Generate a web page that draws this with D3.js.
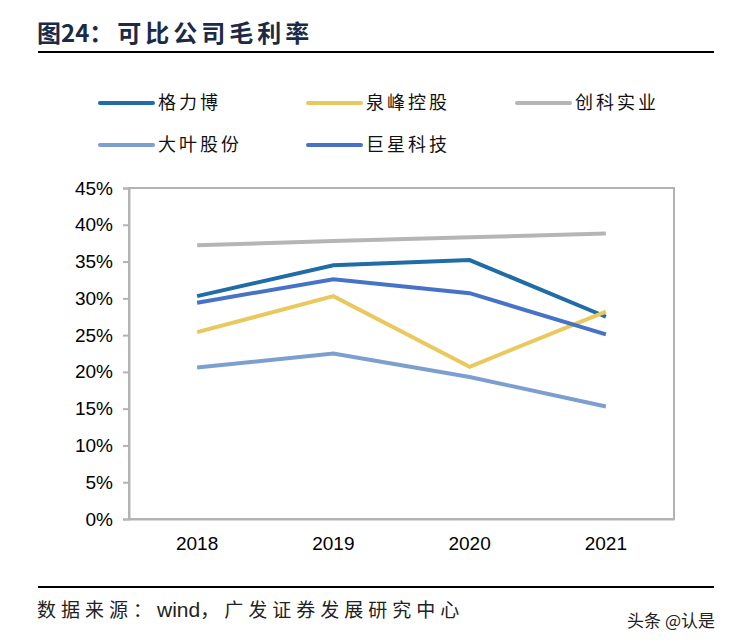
<!DOCTYPE html>
<html>
<head>
<meta charset="utf-8">
<script src="https://cdn.jsdelivr.net/npm/d3@7"></script>
<style>
  body { margin: 0; background: #fff; }
  svg { display: block; }
</style>
</head>
<body>
<div id="chart"></div>
<script>
// categories and series
const years = ["2018", "2019", "2020", "2021"];
const seriesNames = ["格力博", "泉峰控股", "创科实业", "大叶股份", "巨星科技"];
const gelibo = [0.303, 0.345, 0.352, 0.275];
const quanfeng = [0.254, 0.303, 0.207, 0.282];
const chuangke = [0.372, 0.378, 0.383, 0.388];
const daye = [0.206, 0.225, 0.193, 0.153];
const juxing = [0.294, 0.326, 0.307, 0.251];
const yTicks = [0, 0.05, 0.1, 0.15, 0.2, 0.25, 0.3, 0.35, 0.4, 0.45];

const colors = ["#1f6ca6", "#e9c95e", "#b5b5b5", "#7c9fd0", "#4673c6"];
const allValues = [gelibo, quanfeng, chuangke, daye, juxing];

const width = 734, height = 644;
const plot = {left: 129, right: 674, top: 188, bottom: 519};

const svg = d3.select("#chart").append("svg")
    .attr("width", width)
    .attr("height", height);

// title
const title = svg.append("text")
    .attr("x", 37)
    .attr("y", 42)
    .attr("font-family", "Noto Sans CJK SC, sans-serif")
    .attr("font-weight", "bold")
    .attr("font-size", 24)
    .attr("fill", "#1b2a47");
title.append("tspan").attr("letter-spacing", 0).text("图24");
title.append("tspan").attr("letter-spacing", 4).text("：可比公司毛利率");

svg.append("line")
    .attr("x1", 38).attr("x2", 714)
    .attr("y1", 52).attr("y2", 52)
    .attr("stroke", "#000").attr("stroke-width", 2);

// legend
const legendPos = [[100, 103], [308, 103], [517, 103], [100, 145], [308, 145]];
const legend = svg.append("g").selectAll("g")
    .data(seriesNames)
    .enter().append("g")
      .attr("transform", function(d, i) { return "translate(" + legendPos[i][0] + "," + legendPos[i][1] + ")"; });

legend.append("line")
    .attr("x1", 0).attr("x2", 53)
    .attr("stroke", function(d, i) { return colors[i]; })
    .attr("stroke-width", 4)
    .attr("stroke-linecap", "round");

legend.append("text")
    .attr("x", 58)
    .attr("dy", "0.36em")
    .attr("font-family", "Noto Sans CJK SC, sans-serif")
    .attr("font-size", 18)
    .attr("letter-spacing", 3)
    .attr("fill", "#111")
    .text(function(d) { return d; });

// scales
const x = d3.scaleBand()
    .domain(years)
    .range([plot.left, plot.right]);

const y = d3.scaleLinear()
    .domain([0, 0.45])
    .range([plot.bottom, plot.top]);

// plot frame
svg.append("rect")
    .attr("x", plot.left).attr("y", plot.top)
    .attr("width", plot.right - plot.left)
    .attr("height", plot.bottom - plot.top)
    .attr("fill", "none")
    .attr("stroke", "#b3b3b3")
    .attr("stroke-width", 2);

// y axis
const yAxis = svg.append("g")
    .attr("transform", "translate(" + plot.left + ",0)")
    .call(d3.axisLeft(y).tickValues(yTicks).tickFormat(d3.format(".0%")).tickSize(6).tickPadding(10));

yAxis.select(".domain").attr("stroke", "#b3b3b3").attr("stroke-width", 2);
yAxis.selectAll(".tick line").attr("stroke", "#b3b3b3").attr("stroke-width", 2);
yAxis.selectAll(".tick text")
    .attr("font-family", "Liberation Sans, Arial, sans-serif")
    .attr("font-size", 19)
    .attr("fill", "#000");

// x axis
const xAxis = svg.append("g")
    .attr("transform", "translate(0," + plot.bottom + ")")
    .call(d3.axisBottom(x).tickSize(0).tickPadding(18));

xAxis.select(".domain").attr("stroke", "#b3b3b3").attr("stroke-width", 2);
xAxis.selectAll(".tick text")
    .attr("font-family", "Liberation Sans, Arial, sans-serif")
    .attr("font-size", 19)
    .attr("fill", "#000");

// lines
const line = d3.line()
    .x(function(d, i) { return x(years[i]) + x.bandwidth() / 2; })
    .y(function(d) { return y(d); });

svg.append("g").selectAll("path")
    .data(allValues)
    .enter().append("path")
      .attr("d", line)
      .attr("fill", "none")
      .attr("stroke", function(d, i) { return colors[i]; })
      .attr("stroke-width", 4)
      .attr("stroke-linejoin", "miter");

// footer
svg.append("line")
    .attr("x1", 38).attr("x2", 714)
    .attr("y1", 587).attr("y2", 587)
    .attr("stroke", "#000").attr("stroke-width", 2);

const source = svg.append("text")
    .attr("x", 37)
    .attr("y", 617)
    .attr("font-family", "Noto Sans CJK SC, sans-serif")
    .attr("font-size", 19)
    .attr("fill", "#222");
source.append("tspan").attr("letter-spacing", 5).text("数据来源：");
source.append("tspan").attr("letter-spacing", 0)
    .attr("font-family", "Liberation Sans, Arial, sans-serif")
    .attr("font-size", 21)
    .text("wind");
source.append("tspan").attr("letter-spacing", 5).text("，广发证券发展研究中心");

svg.append("text")
    .attr("x", 715)
    .attr("y", 627)
    .attr("text-anchor", "end")
    .attr("font-family", "Noto Sans CJK SC, sans-serif")
    .attr("font-size", 17)
    .attr("fill", "#222")
    .text("头条 @认是");
</script>
</body>
</html>
